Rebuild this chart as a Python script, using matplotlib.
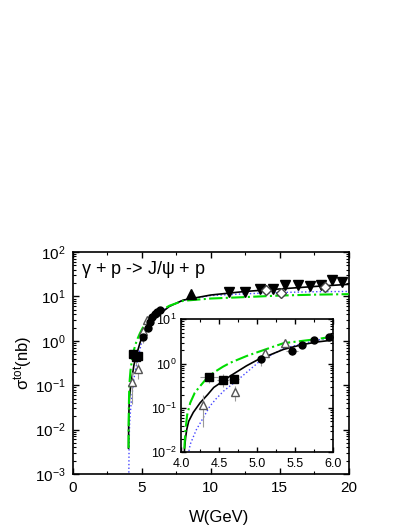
import numpy as np
import matplotlib
matplotlib.use("Agg")
import matplotlib.pyplot as plt
from matplotlib.ticker import MultipleLocator, LogLocator, NullFormatter

plt.rcParams['font.family'] = ['Liberation Sans', 'DejaVu Sans']
plt.rcParams['mathtext.default'] = 'regular'

# model curves
w_black = [4.036, 4.045, 4.06, 4.075, 4.1, 4.16, 4.25, 4.35, 4.43, 4.55, 4.65, 4.86, 5.0, 5.2, 5.35,
           5.6, 5.8, 6.0, 7.0, 8.0, 10.0, 12.5, 15.0, 17.5, 20.0]
s_black = [0.0038, 0.012, 0.022, 0.033, 0.05, 0.079, 0.13, 0.2, 0.29, 0.40, 0.53, 0.89, 1.2, 1.65, 2.1,
           2.7, 3.1, 3.4, 6.0, 8.3, 10.8, 13.0, 14.8, 16.8, 18.8]
w_green = [4.036, 4.045, 4.06, 4.08, 4.12, 4.18, 4.25, 4.33, 4.43, 4.55, 4.65, 4.86, 5.04, 5.35,
           5.8, 6.0, 7.0, 8.0, 10.0, 12.5, 15.0, 17.5, 20.0]
s_green = [0.0038, 0.015, 0.035, 0.07, 0.13, 0.22, 0.31, 0.45, 0.63, 0.85, 1.05, 1.48, 1.9, 2.9,
           3.6, 4.1, 6.2, 8.0, 9.0, 9.7, 10.5, 11.0, 11.3]
w_blue = [4.05, 4.07, 4.1, 4.12, 4.16, 4.2, 4.25, 4.38, 4.46, 4.56, 4.78, 5.04, 5.35, 5.79, 6.0,
          7.0, 8.0, 10.0, 12.5, 15.0, 17.5, 20.0]
s_blue = [0.0005, 0.003, 0.01, 0.015, 0.022, 0.032, 0.045, 0.11, 0.16, 0.24, 0.48, 1.15, 2.2, 3.4, 3.9,
          6.0, 8.3, 10.5, 11.5, 12.3, 12.8, 13.0]

# data sets
w_sq = [4.364, 4.557, 4.70]
s_sq = [0.50, 0.43, 0.45]
ws_sq = [0.12, 0.08, 0.065]
es_sq = [0.13, 0.14, 0.05]

w_otri = [4.285, 4.71, 5.10, 5.37]
s_otri = [0.117, 0.23, 1.7, 2.9]
es_otri = [0.08, 0.09, 0.3, 0.4]

w_circ = [5.057, 5.46, 5.59, 5.75, 5.95, 6.1, 6.3]
s_circ = [1.25, 1.9, 2.7, 3.5, 4.0, 4.5, 5.0]
ws_circ = [0.05, 0.08, 0.05, 0.05, 0.05, 0.05, 0.05]
es_circ = [0.35, 0.3, 0.3, 0.3, 0.4, 0.4, 0.4]

w_utri = [8.55]
s_utri = [11.5]

w_dtri = [11.3, 12.5, 13.6, 14.5, 15.4, 16.3, 17.2, 18.0, 18.8, 19.5]
s_dtri = [12.5, 12.5, 15.0, 15.0, 18.0, 18.0, 17.0, 18.0, 24.0, 21.0]

w_dia = [14.0, 15.1, 18.3]
s_dia = [13.7, 12.3, 16.0]
es_dia = [1.5, 2.0, 1.5]

gray = '#999999'


def draw(ax, ms=1.0):
    ax.plot(w_blue, s_blue, ':', color='#4444ff', lw=1.0, zorder=2)
    ax.plot(w_black, s_black, '-', color='black', lw=1.2, zorder=3)
    ax.plot(w_green, s_green, '-.', color='#00dd00', lw=1.5, zorder=3)
    ax.errorbar(w_sq, s_sq, xerr=ws_sq, yerr=es_sq, fmt='s', color='black', ms=6 * ms,
                ecolor=gray, elinewidth=0.8, zorder=4)
    ax.errorbar(w_otri, s_otri, yerr=es_otri, fmt='^', mfc='white', mec='#555555', ms=6 * ms,
                ecolor=gray, elinewidth=0.8, zorder=4)
    ax.errorbar(w_circ, s_circ, xerr=ws_circ, yerr=es_circ, fmt='o', color='black', ms=5 * ms,
                ecolor=gray, elinewidth=0.8, zorder=4)


fig = plt.figure(figsize=(4.07, 5.27), dpi=100)
ax = fig.add_axes([0.179, 0.1006, 0.678, 0.421])
draw(ax, 1.0)
ax.plot(w_utri, s_utri, '^', color='black', ms=7.5, zorder=4)
ax.plot(w_dtri, s_dtri, 'v', color='black', ms=7.5, zorder=4)
ax.errorbar(w_dia, s_dia, yerr=es_dia, fmt='D', mfc='white', mec='#444444', ms=5.5,
            ecolor=gray, elinewidth=0.8, zorder=4)
ax.set_yscale('log')
ax.set_xlim(0, 20)
ax.set_ylim(1e-3, 1e2)
ax.xaxis.set_major_locator(MultipleLocator(5))
ax.xaxis.set_minor_locator(MultipleLocator(2.5))
ax.yaxis.set_major_locator(LogLocator(base=10, numticks=10))
ax.yaxis.set_minor_locator(LogLocator(base=10, subs=np.arange(2, 10), numticks=10))
ax.yaxis.set_minor_formatter(NullFormatter())
ax.tick_params(which='both', direction='in', top=True, right=True, labelsize=11, pad=5)
ax.tick_params(which='major', length=4, width=1)
ax.tick_params(which='minor', length=2, width=0.8)
for sp in ax.spines.values():
    sp.set_linewidth(1.2)
ax.set_xlabel('W(GeV)', fontsize=12)
ax.set_ylabel(r'$\sigma^{tot}$(nb)', fontsize=12)
ax.xaxis.set_label_coords(0.53, -0.162)
ax.yaxis.set_label_coords(-0.138, 0.5)
ax.text(0.03, 0.9, r'$\gamma$ + p -> J/$\psi$ + p', transform=ax.transAxes, fontsize=13)

ins = fig.add_axes([0.445, 0.142, 0.373, 0.252])
draw(ins, 1.0)
ins.set_yscale('log')
ins.set_xlim(4.0, 6.0)
ins.set_ylim(1e-2, 1e1)
ins.xaxis.set_major_locator(MultipleLocator(0.5))
ins.xaxis.set_minor_locator(MultipleLocator(0.25))
ins.xaxis.set_major_formatter(matplotlib.ticker.FormatStrFormatter('%.1f'))
ins.yaxis.set_major_locator(LogLocator(base=10, numticks=10))
ins.yaxis.set_minor_locator(LogLocator(base=10, subs=np.arange(2, 10), numticks=10))
ins.yaxis.set_minor_formatter(NullFormatter())
ins.tick_params(which='both', direction='in', top=True, right=True, labelsize=9, pad=3)
ins.tick_params(axis='x', pad=4)
ins.tick_params(which='major', length=3.5, width=1)
ins.tick_params(which='minor', length=2, width=0.8)
for sp in ins.spines.values():
    sp.set_linewidth(1.2)

fig.savefig('out.png', dpi=100)
